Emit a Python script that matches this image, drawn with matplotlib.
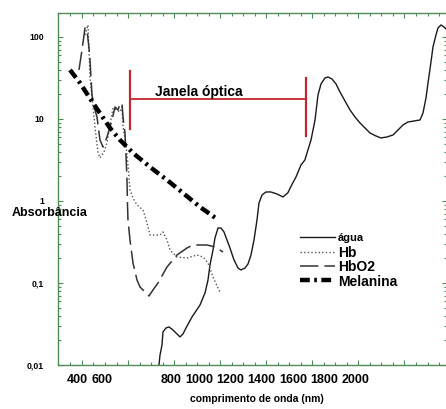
import numpy as np
import matplotlib
matplotlib.use('Agg')
import matplotlib.pyplot as plt
from matplotlib.ticker import FixedLocator, LogLocator, NullFormatter

plt.rcParams['font.family'] = ['Liberation Sans', 'DejaVu Sans']
plt.rcParams['font.weight'] = 'bold'

# absorption spectra (wavelength nm, absorbance)
water_nm = [719.5, 726, 739, 745.5, 765, 784.6, 810.7, 836.7, 856.2, 875.8, 895.3, 934.4,
            986.5, 1019, 1038.6, 1051.6, 1071.1, 1084.1, 1103.7, 1123.2, 1142.7, 1162.2,
            1181.8, 1207.8, 1233.9, 1253.4, 1279.5, 1299, 1318.5, 1338.1, 1357.6, 1370.6,
            1390.2, 1416.2, 1448.5, 1487.5, 1526.6, 1557.9, 1583.7, 1611.5, 1644.1, 1669.4,
            1709.4, 1735.5, 1754.8, 1774.3, 1800.4, 1820, 1846, 1872, 1898, 1930.6, 1963.2,
            1995.7, 2028.3, 2060.8, 2093.3, 2132.5, 2164.9, 2203.3, 2243.1, 2275.7, 2308.2,
            2340.8, 2379.9, 2419, 2438.5, 2458, 2471.1, 2490.5, 2503.5, 2523, 2536.1, 2555.7,
            2575.2, 2594.8]
water_abs = [0.0100, 0.0132, 0.0175, 0.0253, 0.0283, 0.0291, 0.0267, 0.0239, 0.0220, 0.0239,
             0.0283, 0.0385, 0.0539, 0.0755, 0.1088, 0.1658, 0.2526, 0.3538, 0.4685, 0.4685,
             0.4188, 0.3345, 0.2673, 0.1908, 0.1524, 0.1441, 0.1524, 0.1705, 0.2195, 0.3345,
             0.5866, 0.9454, 1.184, 1.288, 1.288, 1.217, 1.119, 1.252, 1.567, 1.962, 2.748,
             3.162, 5.545, 9.723, 19.62, 26.73, 31.62, 32.52, 30.74, 26.73, 21.35, 16.58,
             12.88, 10.58, 8.94, 7.77, 6.75, 6.20, 5.87, 6.03, 6.38, 7.34, 8.45, 9.19, 9.45,
             9.72, 11.84, 18.04, 27.48, 49.56, 75.5, 105.8, 128.8, 140.1, 132.4, 121.7]

hb_nm = [237.7, 257.2, 270.2, 283.2, 302.8, 322.3, 335.3, 361.4, 380.9, 400.4, 420, 446,
         465.6, 478.6, 485.1, 504.6, 517.6, 530.7, 550.2, 576.3, 615.3, 641.4, 660.9, 693.4,
         726, 745.5, 771.6, 791.1, 836.7, 901.8, 966.9, 1006, 1038.6, 1071.1, 1103.7, 1116.7]
hb_abs = [105.8, 140.1, 32.5, 18.55, 7.99, 3.85, 3.35, 3.96, 5.10, 8.45, 13.62, 12.88,
          12.17, 14.0, 7.99, 4.82, 2.75, 1.362, 1.088, 0.894, 0.777, 0.539, 0.385, 0.385,
          0.385, 0.419, 0.3345, 0.2526, 0.2075, 0.2018, 0.2195, 0.2075, 0.1754, 0.1184,
          0.0869, 0.0777]

hbo2_nm = [198.6, 218.1, 237.7, 250.7, 263.7, 270.2, 283.2, 302.8, 315.8, 335.3, 354.9,
           380.9, 413.5, 433, 452.5, 465.6, 478.6, 485.1, 498.1, 504.6, 511.1, 514.4, 517.6,
           530.7, 550.2, 576.3, 595.8, 628.3, 654.4, 680.4, 713, 771.6, 836.7, 901.8, 940.9,
           1032, 1084.1, 1136.2]
hbo2_abs = [39.6, 69.4, 128.8, 121.7, 73.4, 52.4, 19.62, 12.88, 10.58, 5.545, 4.555,
            6.03, 9.72, 14.0, 12.88, 15.24, 15.67, 10.58, 6.75, 3.64, 1.804, 0.894, 0.587,
            0.3345, 0.1754, 0.1088, 0.0894, 0.0777, 0.0694, 0.0822, 0.100, 0.1567, 0.2195,
            0.2673, 0.2906, 0.2906, 0.2748, 0.2388]

mel_nm = [140, 205.1, 289.8, 400.4, 465.6, 550.2, 660.9, 771.6, 875.8, 986.5, 1097.2]
mel_abs = [39.6, 27.48, 15.67, 7.77, 5.545, 3.85, 2.598, 1.804, 1.252, 0.845, 0.603]

# optical window bracket
window_start, window_end = 530.7, 1676.7
window_level = 17.53

xtick_labels = ['400', '600', '800', '1000', '1200', '1400', '1600', '1800', '2000']
ytick_vals = [0.01, 0.1, 1, 10, 100]
ytick_labels = ['0,01', '0,1', '1', '10', '100']
legend_labels = ['água', 'Hb', 'HbO2', 'Melanina']

green = '#4d8c57'
red = '#c1272d'

fig = plt.figure(figsize=(4.46, 4.09), dpi=100)
ax = fig.add_axes([0.13004, 0.10758, 0.87220, 0.86064])
ax.set_yscale('log')
ax.set_xlim(61.9, 2594.8)
ax.set_ylim(0.01, 196)

styles = [dict(color='#1a1a1a', lw=1.0),
          dict(color='#555555', lw=1.0, dashes=(1, 1.6)),
          dict(color='#333333', lw=1.1, dashes=(12, 4)),
          dict(color='black', lw=3.2, dashes=(2.2, 1.0, 0.6, 1.0))]

ax.plot(water_nm, water_abs, **styles[0])
ax.plot(hb_nm, hb_abs, **styles[1])
ax.plot(hbo2_nm, hbo2_abs, **styles[2])
ax.plot(mel_nm, mel_abs, **styles[3])

ax.plot([window_start, window_start], [7.55, 38.5], color=red, lw=1.6)
ax.plot([window_end, window_end], [6.2, 31.6], color=red, lw=1.6)
ax.plot([window_start, window_end], [window_level, window_level], color=red, lw=1.3)
ax.text(693.5, 21.35, 'Janela óptica', fontsize=10, ha='left', va='center')

# legend drawn by hand
leg_line_y = [0.3636, 0.321, 0.2813, 0.2415]
leg_text_y = [0.3608, 0.318, 0.2784, 0.2358]
leg_sizes = [8, 10, 10, 10]
for st, ly, ty, lab, fs in zip(styles, leg_line_y, leg_text_y, legend_labels, leg_sizes):
    ax.plot([0.622, 0.712], [ly, ly], transform=ax.transAxes, **st)
    ax.text(0.7198, ty, lab, transform=ax.transAxes, fontsize=fs, ha='left', va='center')

# ticks
ax.xaxis.set_major_locator(FixedLocator(np.arange(218, 2600, 300)))
ax.xaxis.set_minor_locator(FixedLocator(np.arange(143, 2600, 75)))
ax.set_yticks(ytick_vals, ytick_labels)
ax.yaxis.set_minor_locator(LogLocator(base=10, subs=np.arange(2, 10)))
ax.yaxis.set_minor_formatter(NullFormatter())
ax.tick_params(which='both', direction='in', top=True, right=True, color=green, width=0.8)
ax.tick_params(which='major', length=3.6)
ax.tick_params(which='minor', length=2.2)
ax.tick_params(axis='x', labelbottom=False)
ax.tick_params(axis='y', labelsize=6.3, pad=10)

xlabel_pos = [188.2, 346.4, 800.2, 981.3, 1185.1, 1388.9, 1592.7, 1796.5, 2000.3]
for p, lab in zip(xlabel_pos, xtick_labels):
    ax.text(p, -0.0426, lab, transform=ax.get_xaxis_transform(), fontsize=9,
            ha='center', va='center')

for s in ax.spines.values():
    s.set_color(green)
    s.set_linewidth(1.0)

fig.text(257 / 446, 0.02445, 'comprimento de onda (nm)', fontsize=7.5, ha='center', va='center')
fig.text(12 / 446, 0.4792, 'Absorbância', fontsize=9, ha='left', va='center')

fig.savefig('out.png', dpi=100)
